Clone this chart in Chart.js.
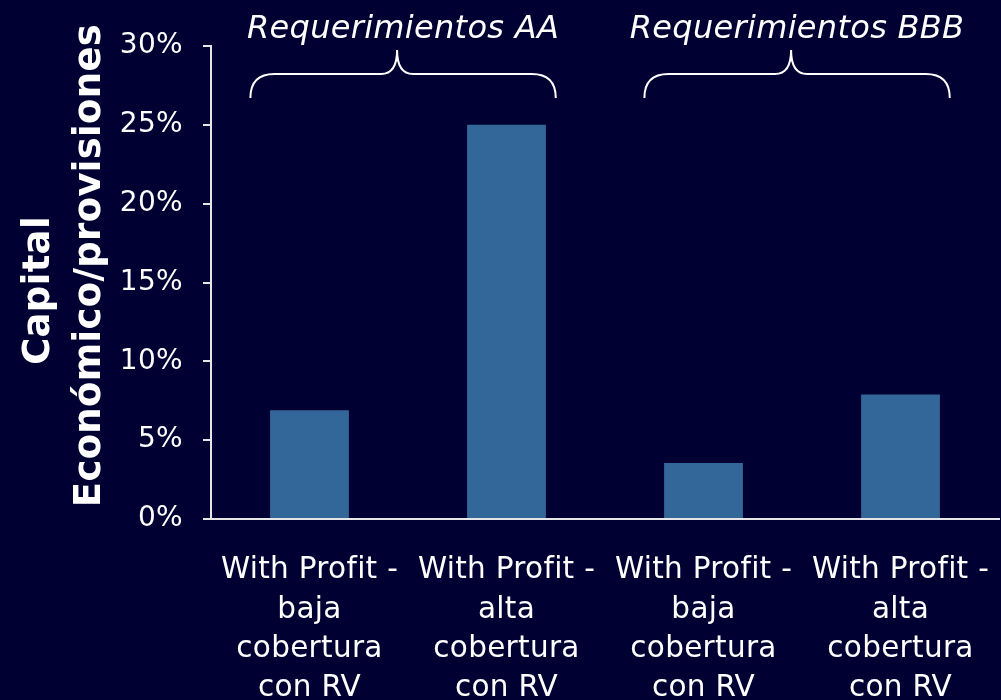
<!DOCTYPE html>
<html>
<head>
<meta charset="utf-8">
<script src="https://cdn.jsdelivr.net/npm/chart.js@4/dist/chart.umd.min.js"></script>
<style>
  html, body { margin: 0; padding: 0; background: #000033; overflow: hidden; }
  canvas { display: block; }
</style>
</head>
<body>
<canvas id="c" width="1001" height="700"></canvas>
<script>
const categories = [
  ['With Profit -', 'baja', 'cobertura', 'con RV'],
  ['With Profit -', 'alta', 'cobertura', 'con RV'],
  ['With Profit -', 'baja', 'cobertura', 'con RV'],
  ['With Profit -', 'alta', 'cobertura', 'con RV']
];
const capitalPct = [6.9, 25.0, 3.55, 7.9];
const yTickValues = [0, 5, 10, 15, 20, 25, 30];
const yTitle = ['Capital', 'Económico/provisiones'];
const groupLabels = ['Requerimientos AA', 'Requerimientos BBB'];
const groupFirst = [0, 2];
const groupLast = [1, 3];

const BG = '#000033';
const FONT = '"DejaVu Sans", Verdana, sans-serif';

const bgPlugin = {
  id: 'bg',
  beforeDraw(chart) {
    const ctx = chart.ctx;
    ctx.fillStyle = BG;
    ctx.fillRect(0, 0, chart.width, chart.height);
    // non-zero tracking: also keeps "fi" from becoming a ligature
    ctx.letterSpacing = '0.3px';
  }
};

const yTitlePlugin = {
  id: 'yTitle',
  afterDraw(chart) {
    const ctx = chart.ctx;
    const ys = chart.scales.y;
    const mid = (ys.top + ys.bottom) / 2;
    const pos = [[39, mid + 8], [90, mid - 17]];
    ctx.save();
    ctx.font = 'bold 37px ' + FONT;
    ctx.fillStyle = '#ffffff';
    ctx.textAlign = 'center';
    ctx.textBaseline = 'middle';
    yTitle.forEach((t, i) => {
      ctx.save();
      ctx.translate(pos[i][0], pos[i][1]);
      ctx.rotate(-Math.PI / 2);
      ctx.fillText(t, 0, 0);
      ctx.restore();
    });
    ctx.restore();
  }
};

const bracePlugin = {
  id: 'braces',
  afterDraw(chart) {
    const ctx = chart.ctx;
    const xs = chart.scales.x;
    const cw = xs.getPixelForValue(1) - xs.getPixelForValue(0);
    groupLabels.forEach((lab, i) => {
      const xl = xs.getPixelForValue(groupFirst[i]) - 0.3 * cw;
      const xr = xs.getPixelForValue(groupLast[i]) + 0.25 * cw;
      const xt = (xl + xr) / 2 - 6;
      const yb = 98, ym = 74, yt = 50;
      ctx.save();
      ctx.strokeStyle = '#ffffff';
      ctx.lineWidth = 2;
      ctx.beginPath();
      ctx.moveTo(xl, yb);
      ctx.quadraticCurveTo(xl, ym, xl + 24, ym);
      ctx.lineTo(xt - 16, ym);
      ctx.quadraticCurveTo(xt, ym, xt, yt);
      ctx.quadraticCurveTo(xt, ym, xt + 16, ym);
      ctx.lineTo(xr - 24, ym);
      ctx.quadraticCurveTo(xr, ym, xr, yb);
      ctx.stroke();
      ctx.font = 'italic 32px ' + FONT;
      ctx.fillStyle = '#ffffff';
      ctx.textAlign = 'center';
      ctx.textBaseline = 'alphabetic';
      ctx.fillText(lab, (xl + xr) / 2, 38);
      ctx.restore();
    });
  }
};

new Chart(document.getElementById('c'), {
  type: 'bar',
  data: {
    labels: categories,
    datasets: [{
      data: capitalPct,
      backgroundColor: '#336699',
      borderWidth: 0,
      barPercentage: 0.4,
      categoryPercentage: 1.0
    }]
  },
  options: {
    responsive: false,
    animation: false,
    layout: { padding: { top: 46, right: 2, bottom: 0, left: 0 } },
    plugins: {
      legend: { display: false },
      tooltip: { enabled: false }
    },
    scales: {
      x: {
        grid: { display: false, drawTicks: false },
        border: { display: true, color: '#e6e6e6', width: 2 },
        ticks: {
          color: '#ffffff',
          font: { family: FONT, size: 29.5, lineHeight: 1.33 },
          padding: 32,
          maxRotation: 0,
          autoSkip: false
        },
        afterFit(scale) {
          scale.height = 181;
          scale.paddingLeft = 0;
          scale.paddingRight = 0;
        }
      },
      y: {
        min: 0,
        max: 30,
        afterBuildTicks(scale) { scale.ticks = yTickValues.map(v => ({ value: v })); },
        grid: { display: true, drawOnChartArea: false, drawTicks: true, tickLength: 8, color: '#e6e6e6', lineWidth: 2 },
        border: { display: true, color: '#e6e6e6', width: 2 },
        ticks: {
          color: '#ffffff',
          font: { family: FONT, size: 28 },
          padding: 20,
          callback: v => v + '%'
        },
        title: { display: false, text: yTitle },
        afterFit(scale) {
          scale.width = 211;
          scale.paddingTop = 0;
          scale.paddingBottom = 0;
        }
      }
    }
  },
  plugins: [bgPlugin, yTitlePlugin, bracePlugin]
});
</script>
</body>
</html>
